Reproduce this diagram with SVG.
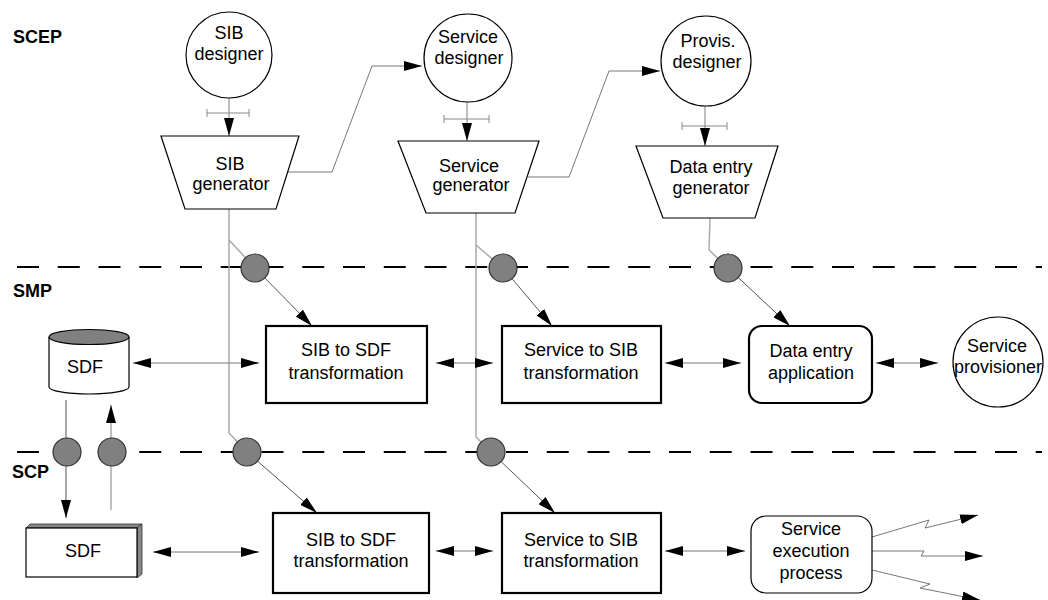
<svg xmlns="http://www.w3.org/2000/svg" width="1048" height="600" viewBox="0 0 1048 600">
<style>
text{font-family:"Liberation Sans",Arial,sans-serif;font-size:18px;fill:#000}
.c{text-anchor:middle}
.lbl{font-weight:bold}
.node{fill:#fff;stroke:#000;stroke-width:1.2}
.box{fill:#fff;stroke:#000;stroke-width:2.2}
.dash{stroke:#000;stroke-width:2;stroke-dasharray:22 18.75;fill:none}
.pt{fill:#808080;stroke:#333;stroke-width:1.2}
.feed{fill:none;stroke:#777;stroke-width:1}
.vg{fill:none;stroke:#aaa;stroke-width:1.5}
.dg{fill:none;stroke:#555;stroke-width:1}
.hl{fill:none;stroke:#777;stroke-width:1}
.tick{fill:none;stroke:#888;stroke-width:1}
.shade{fill:#888;stroke:#333;stroke-width:0.8}
</style>
<defs>
<marker id="ah" markerUnits="userSpaceOnUse" markerWidth="18" markerHeight="10" refX="18" refY="5" orient="auto-start-reverse" viewBox="0 0 18 10"><path d="M0,0 L18,5 L0,10 z" fill="#000"/></marker>
</defs>

<g id="layers">
<text class="lbl" x="13" y="43">SCEP</text>
<text class="lbl" x="13" y="297">SMP</text>
<text class="lbl" x="12" y="478">SCP</text>
<line class="dash" x1="17" y1="267" x2="1042" y2="267"/>
<line class="dash" x1="17" y1="452" x2="1042" y2="452"/>
</g>

<g id="connectors">
<!-- designer to generator -->
<line class="vg" x1="229" y1="97" x2="229" y2="136" marker-end="url(#ah)"/>
<path class="tick" d="M207,113 H249 M207,109 V117 M249,109 V117"/>
<line class="vg" x1="467" y1="102" x2="467" y2="141" marker-end="url(#ah)"/>
<path class="tick" d="M444,119 H489 M444,115 V123 M489,115 V123"/>
<line class="vg" x1="705" y1="106" x2="705" y2="146" marker-end="url(#ah)"/>
<path class="tick" d="M682,126 H727 M682,122 V130 M727,122 V130"/>
<!-- feedback -->
<polyline class="feed" points="288,172 332,172 372,66 422,66" marker-end="url(#ah)"/>
<polyline class="feed" points="528,177 569,177 609,71 660,71" marker-end="url(#ah)"/>
<!-- generator downlinks -->
<polyline class="vg" points="229,209 229,433 247,452"/>
<line class="vg" x1="229" y1="240" x2="255" y2="268"/>
<line class="dg" x1="255" y1="268" x2="312" y2="326" marker-end="url(#ah)"/>
<line class="dg" x1="247" y1="452" x2="317" y2="513" marker-end="url(#ah)"/>
<polyline class="vg" points="476,213 476,437 491,452"/>
<line class="vg" x1="476" y1="245" x2="503" y2="268"/>
<line class="dg" x1="503" y1="268" x2="552" y2="326" marker-end="url(#ah)"/>
<line class="dg" x1="491" y1="452" x2="555" y2="513" marker-end="url(#ah)"/>
<polyline class="vg" points="710,218 709,250 728,268"/>
<line class="dg" x1="728" y1="268" x2="790" y2="326" marker-end="url(#ah)"/>
<!-- SMP row -->
<line class="hl" x1="133" y1="363" x2="259" y2="363" marker-start="url(#ah)" marker-end="url(#ah)"/>
<line class="hl" x1="436" y1="363" x2="493" y2="363" marker-start="url(#ah)" marker-end="url(#ah)"/>
<line class="hl" x1="665" y1="363" x2="741" y2="363" marker-start="url(#ah)" marker-end="url(#ah)"/>
<line class="hl" x1="876" y1="363" x2="938" y2="363" marker-start="url(#ah)" marker-end="url(#ah)"/>
<!-- SDF to SDF -->
<line class="dg" x1="66" y1="400" x2="66" y2="518" marker-end="url(#ah)"/>
<line class="vg" x1="111" y1="510" x2="111" y2="405" marker-end="url(#ah)"/>
<!-- SCP row -->
<line class="hl" x1="153" y1="552" x2="259" y2="552" marker-start="url(#ah)" marker-end="url(#ah)"/>
<line class="hl" x1="436" y1="551" x2="493" y2="551" marker-start="url(#ah)" marker-end="url(#ah)"/>
<line class="hl" x1="665" y1="551" x2="745" y2="551" marker-start="url(#ah)" marker-end="url(#ah)"/>
<polyline class="hl" points="872,537 929,520 925,528 978,515" marker-end="url(#ah)"/>
<polyline class="hl" points="872,551 924,551 921,556 983,556" marker-end="url(#ah)"/>
<polyline class="hl" points="872,570 930,584 920,588 980,600" marker-end="url(#ah)"/>
<!-- connection points -->
<circle class="pt" cx="255" cy="268" r="14"/>
<circle class="pt" cx="503" cy="268" r="14"/>
<circle class="pt" cx="728" cy="268" r="14"/>
<circle class="pt" cx="67" cy="452" r="14"/>
<circle class="pt" cx="112" cy="452" r="14"/>
<circle class="pt" cx="247" cy="452" r="14"/>
<circle class="pt" cx="491" cy="452" r="14"/>
</g>

<g id="sib-designer">
<circle class="node" cx="229" cy="55" r="43"/>
<text class="c" x="229" y="39">SIB</text>
<text class="c" x="229" y="60">designer</text>
</g>
<g id="service-designer">
<circle class="node" cx="468" cy="58" r="44"/>
<text class="c" x="468" y="43">Service</text>
<text class="c" x="469" y="64">designer</text>
</g>
<g id="provis-designer">
<circle class="node" cx="706" cy="61" r="45"/>
<text class="c" x="708" y="47">Provis.</text>
<text class="c" x="707" y="68">designer</text>
</g>

<g id="sib-generator">
<polygon class="node" points="161,136 299,136 276,209 185,209"/>
<text class="c" x="230" y="170">SIB</text>
<text class="c" x="231" y="190">generator</text>
</g>
<g id="service-generator">
<polygon class="node" points="398,141 539,141 515,213 426,213"/>
<text class="c" x="469" y="172">Service</text>
<text class="c" x="471" y="191">generator</text>
</g>
<g id="data-entry-generator">
<polygon class="node" points="636,146 778,146 755,218 663,218"/>
<text class="c" x="711" y="173">Data entry</text>
<text class="c" x="711" y="194">generator</text>
</g>

<g id="smp-sdf">
<path class="node" d="M49,337 L49,387 A40,7 0 0 0 129,387 L129,337"/>
<ellipse cx="89" cy="337" rx="40" ry="7.5" fill="#808080" stroke="#000" stroke-width="1.2"/>
<text class="c" x="85" y="373">SDF</text>
</g>
<g id="smp-sib-to-sdf">
<rect class="box" x="266" y="326" width="161" height="77"/>
<text class="c" x="346" y="356">SIB to SDF</text>
<text class="c" x="346" y="379">transformation</text>
</g>
<g id="smp-service-to-sib">
<rect class="box" x="502" y="326" width="159" height="77"/>
<text class="c" x="581" y="356">Service to SIB</text>
<text class="c" x="581" y="379">transformation</text>
</g>
<g id="data-entry-application">
<rect class="box" x="749" y="326" width="123" height="77" rx="13"/>
<text class="c" x="811" y="357">Data entry</text>
<text class="c" x="811" y="379">application</text>
</g>
<g id="service-provisioner">
<circle class="node" cx="998" cy="362" r="45"/>
<text class="c" x="997" y="352">Service</text>
<text class="c" x="998" y="373">provisioner</text>
</g>

<g id="scp-sdf">
<polygon class="shade" points="26,528 30,524 142,524 137,528"/>
<polygon class="shade" points="137,528 142,524 142,574 137,578"/>
<rect class="node" x="26" y="528" width="111" height="49"/>
<text class="c" x="83" y="557">SDF</text>
</g>
<g id="scp-sib-to-sdf">
<rect class="box" x="273" y="513" width="156" height="80"/>
<text class="c" x="351" y="546">SIB to SDF</text>
<text class="c" x="351" y="567">transformation</text>
</g>
<g id="scp-service-to-sib">
<rect class="box" x="502" y="513" width="159" height="80"/>
<text class="c" x="581" y="546">Service to SIB</text>
<text class="c" x="581" y="567">transformation</text>
</g>
<g id="service-execution-process">
<rect class="node" x="751" y="516" width="121" height="77" rx="15"/>
<text class="c" x="811" y="535">Service</text>
<text class="c" x="811" y="557">execution</text>
<text class="c" x="811" y="579">process</text>
</g>
</svg>
